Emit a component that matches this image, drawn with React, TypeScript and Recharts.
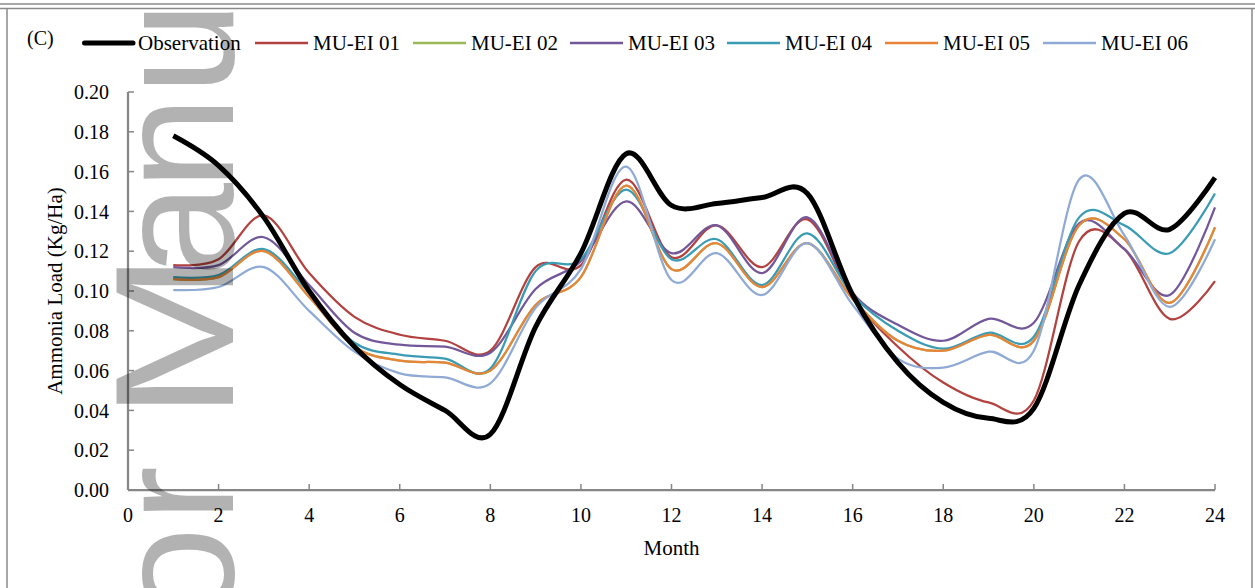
import React from 'react';
import { LineChart, Line, XAxis, YAxis, Legend } from 'recharts';

// ---------- data ----------
const months = [1, 2, 3, 4, 5, 6, 7, 8, 9, 10, 11, 12, 13, 14, 15, 16, 17, 18, 19, 20, 21, 22, 23, 24];

const observation = [0.178, 0.163, 0.137, 0.100, 0.072, 0.053, 0.040, 0.028, 0.082, 0.119, 0.169, 0.143, 0.144, 0.147, 0.149, 0.098, 0.064, 0.044, 0.036, 0.041, 0.103, 0.139, 0.131, 0.157];
const muEi01 = [0.113, 0.116, 0.138, 0.109, 0.087, 0.078, 0.075, 0.070, 0.112, 0.113, 0.156, 0.117, 0.133, 0.112, 0.136, 0.097, 0.072, 0.054, 0.044, 0.045, 0.125, 0.121, 0.086, 0.105];
const muEi02 = [0.106, 0.107, 0.120, 0.097, 0.072, 0.065, 0.064, 0.060, 0.093, 0.107, 0.153, 0.111, 0.124, 0.102, 0.124, 0.096, 0.075, 0.070, 0.078, 0.075, 0.133, 0.126, 0.094, 0.132];
const muEi03 = [0.112, 0.113, 0.127, 0.103, 0.079, 0.073, 0.072, 0.069, 0.101, 0.115, 0.145, 0.119, 0.133, 0.109, 0.137, 0.099, 0.083, 0.075, 0.086, 0.084, 0.134, 0.121, 0.098, 0.142];
const muEi04 = [0.107, 0.108, 0.121, 0.099, 0.074, 0.068, 0.066, 0.061, 0.110, 0.116, 0.151, 0.116, 0.126, 0.103, 0.129, 0.098, 0.080, 0.071, 0.079, 0.077, 0.137, 0.133, 0.119, 0.149];
const muEi05 = [0.106, 0.107, 0.120, 0.097, 0.072, 0.065, 0.064, 0.060, 0.093, 0.107, 0.153, 0.111, 0.124, 0.102, 0.124, 0.096, 0.075, 0.070, 0.078, 0.075, 0.133, 0.126, 0.094, 0.132];
const muEi06 = [0.1005, 0.102, 0.112, 0.090, 0.0695, 0.0586, 0.0566, 0.0536, 0.0915, 0.111, 0.1625, 0.1055, 0.119, 0.098, 0.124, 0.093, 0.066, 0.0615, 0.0695, 0.070, 0.156, 0.128, 0.092, 0.126];

const xTicks = [0, 2, 4, 6, 8, 10, 12, 14, 16, 18, 20, 22, 24];
const yTicks = [0, 0.02, 0.04, 0.06, 0.08, 0.1, 0.12, 0.14, 0.16, 0.18, 0.2];

const seriesDefs = [
  { key: 'obs', name: 'Observation', color: '#000000', width: 5, values: observation },
  { key: 'e1', name: 'MU-EI 01', color: '#B2423F', width: 2.25, values: muEi01 },
  { key: 'e2', name: 'MU-EI 02', color: '#98B954', width: 2.25, values: muEi02 },
  { key: 'e3', name: 'MU-EI 03', color: '#725799', width: 2.25, values: muEi03 },
  { key: 'e4', name: 'MU-EI 04', color: '#3A9CB2', width: 2.25, values: muEi04 },
  { key: 'e5', name: 'MU-EI 05', color: '#E8843A', width: 2.25, values: muEi05 },
  { key: 'e6', name: 'MU-EI 06', color: '#8FAAD4', width: 2.25, values: muEi06 },
];

const data = months.map((m, i) => {
  const row: any = { month: m };
  seriesDefs.forEach((s) => {
    row[s.key] = s.values[i];
  });
  return row;
});

// Excel-like smoothing (uniform Catmull-Rom / cardinal with tension 0)
function excelCurve(context: any) {
  const k = 1 / 6;
  let x0 = NaN, y0 = NaN, x1 = NaN, y1 = NaN, x2 = NaN, y2 = NaN;
  let pt = 0;
  let line: number = NaN;
  const bez = (x: number, y: number) => {
    context.bezierCurveTo(
      x1 + k * (x2 - x0),
      y1 + k * (y2 - y0),
      x2 + k * (x1 - x),
      y2 + k * (y1 - y),
      x2,
      y2
    );
  };
  return {
    areaStart() { line = 0; },
    areaEnd() { line = NaN; },
    lineStart() {
      x0 = x1 = x2 = y0 = y1 = y2 = NaN;
      pt = 0;
    },
    lineEnd() {
      switch (pt) {
        case 2: context.lineTo(x2, y2); break;
        case 3: bez(x1, y1); break;
      }
      if (line || (line !== 0 && pt === 1)) context.closePath();
      line = 1 - line;
    },
    point(x: number, y: number) {
      x = +x; y = +y;
      switch (pt) {
        case 0:
          pt = 1;
          if (line) context.lineTo(x, y); else context.moveTo(x, y);
          break;
        case 1:
          pt = 2; x1 = x; y1 = y;
          break;
        case 2:
          pt = 3;
          bez(x, y);
          break;
        default:
          bez(x, y);
          break;
      }
      x0 = x1; x1 = x2; x2 = x;
      y0 = y1; y1 = y2; y2 = y;
    },
  };
}

const serif = '"Liberation Serif", "Times New Roman", serif';
const legendStarts = [82, 255, 413, 570, 727, 885, 1043];

const renderLegend = () => (
  <svg width={1255} height={40} style={{ display: 'block' }}>
    {seriesDefs.map((s, i) => {
      const x = legendStarts[i];
      const isObs = s.key === 'obs';
      return (
        <g key={s.key}>
          <line
            x1={isObs ? x + 2.5 : x}
            x2={isObs ? x + 51 : x + 53}
            y1={15}
            y2={15}
            stroke={s.color}
            strokeWidth={isObs ? 5 : 2.5}
            strokeLinecap={isObs ? 'round' : 'butt'}
          />
          <text x={x + (isObs ? 56 : 58)} y={22} fontFamily={serif} fontSize={21} fill="#000">
            {s.name}
          </text>
        </g>
      );
    })}
  </svg>
);

const renderXLabel = (props: any) => {
  const vb = props.viewBox || { x: 128, y: 490, width: 1087, height: 98 };
  return (
    <text x={vb.x + vb.width / 2} y={vb.y + 65} textAnchor="middle" fontFamily={serif} fontSize={21} fill="#000">
      Month
    </text>
  );
};

const renderYLabel = (props: any) => {
  const vb = props.viewBox || { x: 0, y: 92, width: 128, height: 398 };
  const cx = 55;
  const cy = vb.y + vb.height / 2;
  return (
    <text
      x={cx}
      y={cy}
      dy={7}
      transform={`rotate(-90 ${cx} ${cy})`}
      textAnchor="middle"
      fontFamily={serif}
      fontSize={21}
      fill="#000"
    >
      Ammonia Load (Kg/Ha)
    </text>
  );
};

const watermarkLetters = [
  { ch: 'u', c: 48, sx: 1 },
  { ch: 'n', c: 143, sx: 1 },
  { ch: 'a', c: 230, sx: 1 },
  { ch: 'M', c: 336, sx: 1.2 },
  { ch: 'r', c: 494, sx: 1 },
  { ch: 'o', c: 574, sx: 1 },
];

export default function App() {
  const drawOrder = [...seriesDefs.slice(1), seriesDefs[0]];
  return (
    <div style={{ position: 'absolute', left: 0, top: 0, width: 1255, height: 588, background: '#fff', overflow: 'hidden' }}>
      <LineChart width={1255} height={588} data={data} margin={{ top: 92, right: 40, bottom: 0, left: 0 }}>
        <XAxis
          dataKey="month"
          type="number"
          domain={[0, 24]}
          ticks={xTicks}
          interval={0}
          height={98}
          axisLine={{ stroke: '#868686', strokeWidth: 2.25 }}
          tickLine={{ stroke: '#868686', strokeWidth: 1.5 }}
          tickSize={-6}
          tickMargin={24}
          tick={{ fontFamily: serif, fontSize: 20, fill: '#000' }}
          label={renderXLabel}
        />
        <XAxis
          xAxisId="top"
          orientation="top"
          type="number"
          domain={[0, 24]}
          height={0}
          tick={false}
          tickLine={false}
          axisLine={{ stroke: '#000', strokeWidth: 1.75 }}
        />
        <YAxis
          type="number"
          domain={[0, 0.2]}
          ticks={yTicks}
          interval={0}
          width={128}
          axisLine={{ stroke: '#868686', strokeWidth: 2.25 }}
          tickLine={{ stroke: '#868686', strokeWidth: 1.5 }}
          tickSize={-6}
          tickMargin={25}
          tickFormatter={(v: number) => v.toFixed(2)}
          tick={{ fontFamily: serif, fontSize: 20, fill: '#000' }}
          label={renderYLabel}
        />
        <YAxis
          yAxisId="right"
          orientation="right"
          type="number"
          domain={[0, 0.2]}
          width={0}
          tick={false}
          tickLine={false}
          axisLine={{ stroke: '#000', strokeWidth: 1.75 }}
        />
        <Legend
          verticalAlign="middle"
          align="center"
          layout="horizontal"
          content={renderLegend}
          wrapperStyle={{ top: 28, left: 0, width: 1255, height: 40, margin: 0, padding: 0 }}
        />
        {drawOrder.map((s) => (
          <Line
            key={s.key}
            dataKey={s.key}
            name={s.name}
            type={excelCurve as any}
            stroke={s.color}
            strokeWidth={s.width}
            strokeLinejoin="round"
            dot={false}
            activeDot={false}
            isAnimationActive={false}
          />
        ))}
      </LineChart>
      <svg
        width={1255}
        height={588}
        style={{ position: 'absolute', left: 0, top: 0, pointerEvents: 'none' }}
      >
        <line x1={0} x2={1255} y1={4} y2={4} stroke="#8a8a8a" strokeWidth={1.5} />
        <line x1={0} x2={1255} y1={8.5} y2={8.5} stroke="#8a8a8a" strokeWidth={1.5} />
        <line x1={7} x2={7} y1={8} y2={588} stroke="#8a8a8a" strokeWidth={1.5} />
        <line x1={1252} x2={1252} y1={8} y2={588} stroke="#8a8a8a" strokeWidth={1.5} />
        <text x={27} y={45} fontFamily={serif} fontSize={20} fill="#000">(C)</text>
        {watermarkLetters.map((w) => (
          <text
            key={w.ch}
            x={0}
            y={0}
            transform={`translate(233 ${w.c}) rotate(-90) scale(${w.sx} 1)`}
            textAnchor="middle"
            fontFamily='"Liberation Sans", Arial, sans-serif'
            fontSize={169}
            fill="#000"
            fillOpacity={0.3}
          >
            {w.ch}
          </text>
        ))}
      </svg>
    </div>
  );
}
